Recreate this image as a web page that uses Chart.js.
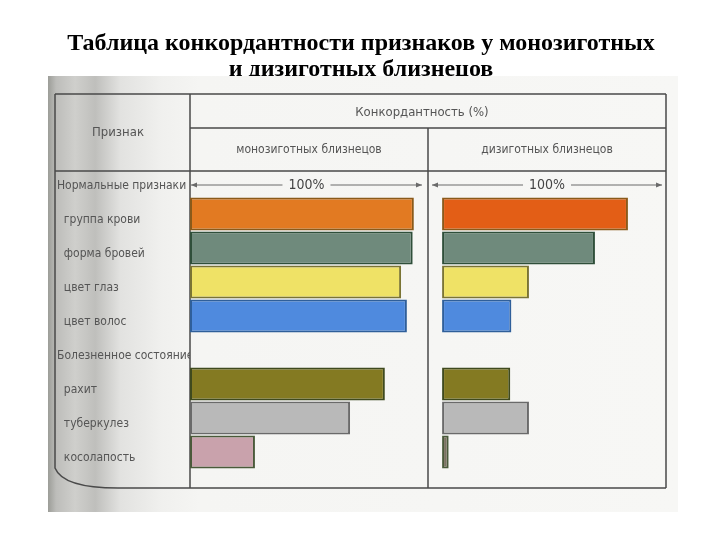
<!DOCTYPE html>
<html lang="ru">
<head>
<meta charset="utf-8">
<title>Конкордантность близнецов</title>
<script src="https://cdn.jsdelivr.net/npm/chart.js@4.4.1/dist/chart.umd.min.js"></script>
<style>
  html, body { margin: 0; padding: 0; background: #fff; }
  #wrap { width: 720px; height: 540px; }
</style>
</head>
<body>
<div id="wrap"><canvas id="myChart" width="720" height="540"></canvas></div>
<script>
// data (percent of concordance)
const categories = [
  "Нормальные признаки",
  "группа крови",
  "форма бровей",
  "цвет глаз",
  "цвет волос",
  "Болезненное состояние",
  "рахит",
  "туберкулез",
  "косолапость",
];
const headerRows = ["Нормальные признаки", "Болезненное состояние"];
const monoValues = [null, 96.5, 96, 91, 93.5, null, 84, 69, 28];
const diValues = [null, 84.5, 69.5, 39.5, 31.5, null, 31, 39.5, 3];

// bar colours, one per row
const monoColors = [null, "#e27a22", "#6f8a7c", "#efe266", "#4f8ade", null, "#847a22", "#b9b9b9", "#c9a2ac"];
const diColors = [null, "#e35e16", "#6f8a7c", "#efe266", "#4f8ade", null, "#847a22", "#b9b9b9", "#7b7262"];
const edgeColors = [null, "#8a5a1a", "#2f4f3a", "#7a7434", "#2f5f9a", null, "#3f4a1e", "#6a6a6a", "#4a5a3a"];

const titleLines = ["Таблица конкордантности признаков у монозиготных", "и дизиготных близнецов"];

const ctx = document.getElementById("myChart").getContext("2d");

Chart.defaults.font.family = "'DejaVu Sans Condensed', 'DejaVu Sans', sans-serif";

function arrowLine(c, x1, x2, y, label) {
  c.save();
  c.strokeStyle = "#6a6a6a";
  c.fillStyle = "#6a6a6a";
  c.lineWidth = 1;
  c.font = "14px 'DejaVu Sans Condensed'";
  const mid = (x1 + x2) / 2;
  const half = c.measureText(label).width / 2 + 6;
  c.beginPath();
  c.moveTo(x1, y); c.lineTo(mid - half, y);
  c.moveTo(mid + half, y); c.lineTo(x2, y);
  c.stroke();
  // arrow heads
  c.beginPath();
  c.moveTo(x1, y); c.lineTo(x1 + 6, y - 2.5); c.lineTo(x1 + 6, y + 2.5); c.closePath();
  c.moveTo(x2, y); c.lineTo(x2 - 6, y - 2.5); c.lineTo(x2 - 6, y + 2.5); c.closePath();
  c.fill();
  c.fillStyle = "#444";
  c.textAlign = "center";
  c.textBaseline = "middle";
  c.fillText(label, mid, y);
  c.restore();
}

const tablePlugin = {
  id: "tablePlugin",
  beforeDraw(chart) {
    const c = chart.ctx;
    const area = chart.chartArea;
    const xs = chart.scales.x;
    const x2 = chart.scales.x2;
    c.save();
    c.fillStyle = "#fff";
    c.fillRect(0, 0, chart.width, chart.height);

    // title
    c.fillStyle = "#000";
    c.font = "bold 24px 'Liberation Serif'";
    c.textAlign = "center";
    c.textBaseline = "alphabetic";
    c.fillText(titleLines[0], 361, 50);
    c.fillText(titleLines[1], 361, 76);

    // scanned page background
    const g = c.createLinearGradient(48, 0, 678, 0);
    g.addColorStop(0, "#9c9d98");
    g.addColorStop(0.013, "#bdbdba");
    g.addColorStop(0.043, "#cfcfcc");
    g.addColorStop(0.075, "#bfbfbc");
    g.addColorStop(0.115, "#e2e2e0");
    g.addColorStop(0.18, "#f0f0ee");
    g.addColorStop(0.24, "#f5f5f3");
    g.addColorStop(1, "#f7f7f5");
    c.fillStyle = g;
    c.fillRect(48, 76, 630, 436);

    // table frame
    const L = 55, R = area.right, T = 94, B = 488;
    const colL = area.left, colM = xs.right;
    c.strokeStyle = "#4a4a4a";
    c.lineWidth = 1.5;
    c.beginPath();
    c.moveTo(L, T); c.lineTo(R, T);
    c.moveTo(colL, 128); c.lineTo(R, 128);
    c.moveTo(L, 171); c.lineTo(R, 171);
    c.moveTo(L, T); c.lineTo(L, 468);
    c.quadraticCurveTo(L + 8, B, 118, B);
    c.lineTo(R, B);
    c.moveTo(R, T); c.lineTo(R, B);
    c.moveTo(colL, T); c.lineTo(colL, B);
    c.moveTo(colM, 128); c.lineTo(colM, B);
    c.stroke();

    // header texts
    c.fillStyle = "#555";
    c.textBaseline = "middle";
    c.font = "13px 'DejaVu Sans Condensed'";
    c.fillText("Признак", 118, 133);
    c.fillText("Конкордантность (%)", 422, 113);
    c.font = "12px 'DejaVu Sans Condensed'";
    c.fillText("монозиготных близнецов", (colL + colM) / 2, 150);
    c.fillText("дизиготных близнецов", (colM + R) / 2, 150);
    c.restore();

    // 100% markers
    arrowLine(c, xs.getPixelForValue(0) + 1, xs.getPixelForValue(100), 185, "100%");
    arrowLine(c, x2.left + 4, x2.getPixelForValue(100), 185, "100%");
  },
};

const twinChart = new Chart(ctx, {
  type: "bar",
  data: {
    labels: categories,
    datasets: [
      {
        label: "монозиготные близнецы",
        data: monoValues,
        xAxisID: "x",
        backgroundColor: monoColors,
        borderColor: edgeColors,
        borderWidth: 2,
        borderSkipped: false,
        grouped: false,
        barPercentage: 0.97,
        categoryPercentage: 1,
      },
      {
        label: "дизиготные близнецы",
        data: diValues,
        xAxisID: "x2",
        backgroundColor: diColors,
        borderColor: edgeColors,
        borderWidth: 2,
        borderSkipped: false,
        grouped: false,
        barPercentage: 0.97,
        categoryPercentage: 1,
      },
    ],
  },
  options: {
    indexAxis: "y",
    responsive: false,
    animation: false,
    layout: {
      padding: { left: 57, right: 54, top: 163, bottom: 71 },
    },
    plugins: {
      legend: { display: false },
      tooltip: { enabled: false },
      title: { display: false },
    },
    scales: {
      x: {
        type: "linear",
        position: "bottom",
        stack: "panels",
        stackWeight: 1,
        min: 0,
        max: 102.6,
        display: false,
      },
      x2: {
        type: "linear",
        position: "bottom",
        stack: "panels",
        stackWeight: 1,
        min: -6.4,
        max: 101.8,
        display: false,
      },
      y: {
        type: "category",
        grid: { display: false },
        border: { display: false },
        afterFit(scale) {
          scale.width = 133;
        },
        ticks: {
          crossAlign: "far",
          padding: 0,
          labelOffset: 6,
          color: "#555",
          font: { size: 12 },
          callback(value) {
            const name = this.getLabelForValue(value);
            return headerRows.includes(name) ? name : "  " + name;
          },
        },
      },
    },
  },
  plugins: [tablePlugin],
});
</script>
</body>
</html>
